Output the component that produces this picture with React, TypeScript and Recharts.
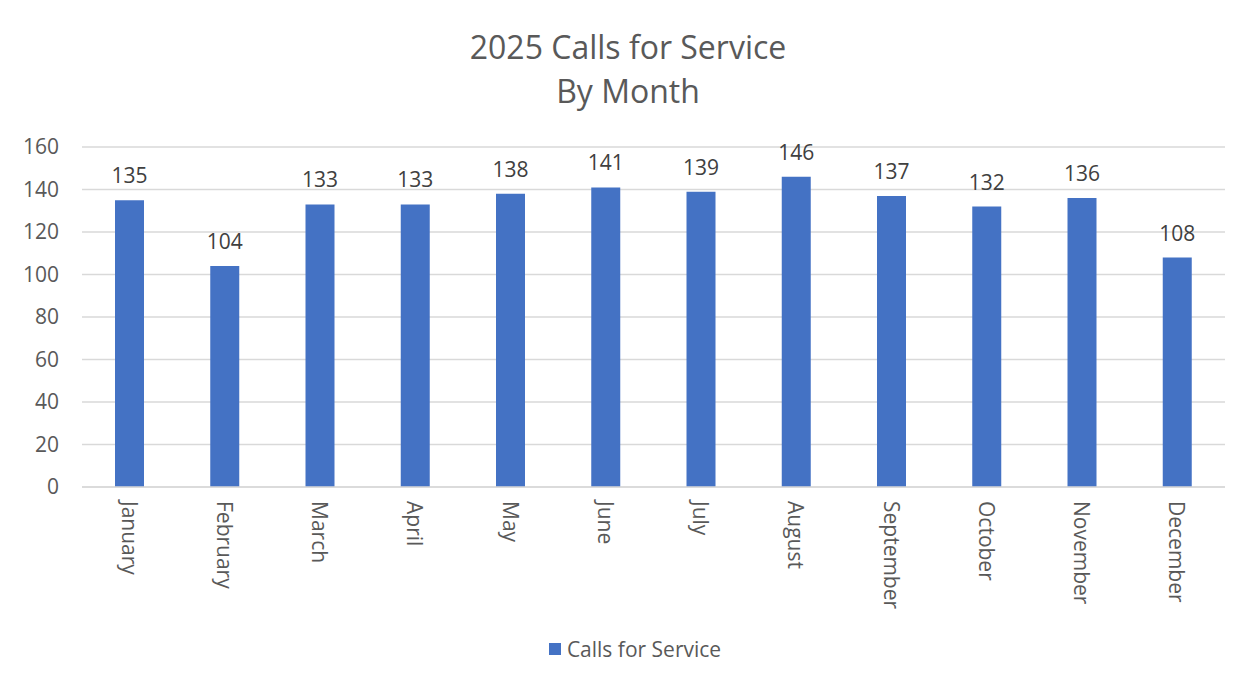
import React from "react";
import { BarChart, Bar, XAxis, YAxis, CartesianGrid, LabelList, Legend } from "recharts";

const months = [
  "January", "February", "March", "April", "May", "June",
  "July", "August", "September", "October", "November", "December",
];
const calls = [135, 104, 133, 133, 138, 141, 139, 146, 137, 132, 136, 108];
const yTicks = [0, 20, 40, 60, 80, 100, 120, 140, 160];

const data = months.map((m, i) => ({ month: m, calls: calls[i] }));

const FONT = "'Open Sans', sans-serif";
const BLUE = "#4472C4";

const MonthTick = (props: any) => {
  const { x, y, payload } = props;
  return (
    <text
      transform={`translate(${x},${y + 6}) rotate(90)`}
      textAnchor="start"
      dominantBaseline="central"
      fill="#595959"
      fontSize={21}
      fontFamily={FONT}
    >
      {payload.value}
    </text>
  );
};

const LegendBox = () => (
  <div style={{ display: "flex", justifyContent: "center", alignItems: "center", paddingLeft: 18, fontFamily: FONT, fontSize: 21, color: "#595959" }}>
    <span style={{ width: 12, height: 12, background: BLUE, marginRight: 6, display: "inline-block" }} />
    Calls for Service
  </div>
);

export default function App() {
  return (
    <div style={{ position: "relative", width: 1252, height: 686, margin: -8, background: "#fff", overflow: "hidden" }}>
      <svg width={1252} height={120} style={{ position: "absolute", left: 0, top: 0 }}>
        <text x={628} y={59} textAnchor="middle" fontFamily={FONT} fontSize={32} fill="#595959">2025 Calls for Service</text>
        <text x={628} y={103} textAnchor="middle" fontFamily={FONT} fontSize={32} fill="#595959">By Month</text>
      </svg>
      <div style={{ position: "absolute", left: 0, top: 0 }}>
        <BarChart width={1252} height={686} data={data} margin={{ top: 147, right: 27, left: 22, bottom: 23 }}>
          <CartesianGrid vertical={false} stroke="#d9d9d9" strokeWidth={1.5} />
          <XAxis
            dataKey="month"
            interval={0}
            height={150}
            tick={<MonthTick />}
            tickLine={false}
            axisLine={{ stroke: "#d9d9d9", strokeWidth: 1.5 }}
          />
          <YAxis
            domain={[0, 160]}
            ticks={yTicks}
            width={60}
            axisLine={false}
            tickLine={false}
            tick={{ fill: "#595959", fontSize: 21, fontFamily: FONT }}
            tickMargin={17}
          />
          <Legend
            verticalAlign="bottom"
            content={<LegendBox />}
            wrapperStyle={{ position: "absolute", top: 635, left: 0, width: 1252, height: 26 }}
          />
          <Bar dataKey="calls" name="Calls for Service" fill={BLUE} barSize={29} isAnimationActive={false}>
            <LabelList dataKey="calls" position="top" offset={17} fill="#404040" fontSize={21} fontFamily={FONT} />
          </Bar>
        </BarChart>
      </div>
      <div style={{ position: "absolute", left: 4, top: 2, width: 1300, height: 720, borderTop: "2px solid #d9d9d9", borderLeft: "2px solid #d9d9d9", pointerEvents: "none" }} />
    </div>
  );
}
